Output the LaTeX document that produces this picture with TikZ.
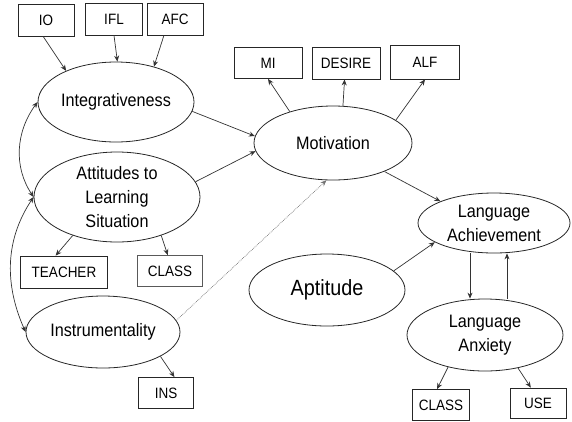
\documentclass[tikz,border=0pt]{standalone}
\usepackage{fontspec}
\setmainfont[FakeStretch=0.9]{Liberation Sans}
\usepackage{xcolor}
\usepackage{tikz}
\usetikzlibrary{arrows.meta, shapes.geometric}
\tikzset{
  latent_node/.style={ellipse, draw=black!85, line width=0.8pt, inner sep=0pt, align=center, font=\fontsize{18}{24}\selectfont},
  indicator_box/.style={rectangle, draw=black!85, line width=0.8pt, inner sep=0pt, minimum height=32pt, font=\fontsize{15}{16}\selectfont},
  edge_path/.style={line width=0.7pt, color=black!80, -{Stealth[length=6pt, width=5pt]}},
  edge_cov/.style={line width=0.7pt, color=black!80, {Stealth[length=6pt, width=5pt]}-{Stealth[length=6pt, width=5pt]}},
  edge_weak/.style={line width=0.7pt, color=black!55, densely dotted, -{Stealth[length=6pt, width=5pt]}}
}
\begin{document}
\begin{tikzpicture}[x=1pt, y=-1pt]
\useasboundingbox (0, 0) rectangle (572, 421);
% latent variables
\node[latent_node, minimum width=156pt, minimum height=80pt] (latent_integ) at (116, 102) {Integrativeness};
\node[latent_node, minimum width=166pt, minimum height=90pt] (latent_att) at (117, 197) {Attitudes to\\Learning\\Situation};
\node[latent_node, minimum width=154pt, minimum height=72pt] (latent_instr) at (103, 332) {Instrumentality};
\node[latent_node, minimum width=158pt, minimum height=74pt] (latent_motiv) at (333, 143) {Motivation};
\node[latent_node, minimum width=152pt, minimum height=60pt] (latent_ach) at (494, 223) {Language\\Achievement};
\node[latent_node, minimum width=156pt, minimum height=72pt, font=\fontsize{22}{24}\selectfont] (latent_apt) at (327, 290) {Aptitude};
\node[latent_node, minimum width=156pt, minimum height=72pt] (latent_anx) at (485, 335) {Language\\Anxiety};
% indicators
\node[indicator_box, minimum width=56pt] (box_io) at (46, 20) {IO};
\node[indicator_box, minimum width=57pt] (box_ifl) at (114, 19) {IFL};
\node[indicator_box, minimum width=56pt] (box_afc) at (175, 19) {AFC};
\node[indicator_box, minimum width=68pt, minimum height=31pt] (box_mi) at (268, 63) {MI};
\node[indicator_box, minimum width=68pt] (box_desire) at (346, 63) {DESIRE};
\node[indicator_box, minimum width=69pt, minimum height=34pt] (box_alf) at (425, 62) {ALF};
\node[indicator_box, minimum width=87pt] (box_teacher) at (64, 272) {TEACHER};
\node[indicator_box, minimum width=65pt, minimum height=31pt, draw=black!65] (box_class_att) at (170, 271) {CLASS};
\node[indicator_box, minimum width=55pt, minimum height=31pt] (box_ins) at (166, 393) {INS};
\node[indicator_box, minimum width=57pt, minimum height=31pt] (box_class_anx) at (441, 405) {CLASS};
\node[indicator_box, minimum width=56pt, minimum height=30pt] (box_use) at (538, 403) {USE};
% paths
\draw[edge_path] (box_io.-100) -- (latent_integ.148);
\draw[edge_path] (box_ifl.south) -- (latent_integ.88);
\draw[edge_path] (box_afc.236) -- (latent_integ.43);
\draw[edge_path] (latent_integ.-7) -- (latent_motiv.175);
\draw[edge_path] (latent_att.11) -- (latent_motiv.186);
\draw[edge_weak] (latent_instr.9) -- (latent_motiv.260);
\draw[edge_path] (latent_motiv.144) -- (box_mi.south);
\draw[edge_path] (latent_motiv.75) -- (box_desire.-95);
\draw[edge_path] (latent_motiv.20) -- (box_alf.south);
\draw[edge_path] (latent_motiv.-29) -- (latent_ach.158);
\draw[edge_path] (latent_att.221) -- (box_teacher.117);
\draw[edge_path] (latent_att.-41) -- (box_class_att.98);
\draw[edge_path] (latent_instr.-23) -- (box_ins.62);
\draw[edge_path] (latent_apt.16) -- (latent_ach.198);
\draw[edge_path] ([xshift=-24pt]latent_ach.south) -- ([xshift=-15pt]latent_anx.north);
\draw[edge_path] ([xshift=22pt]latent_anx.north) -- ([xshift=13pt]latent_ach.south);
\draw[edge_path] (latent_anx.221) -- (box_class_anx.104);
\draw[edge_path] (latent_anx.-45) -- (box_use.115);
% correlations
\draw[edge_cov] (latent_integ.west) .. controls +(-22, 30) and +(-20, -30) .. (latent_att.west);
\draw[edge_cov] (latent_att.west) .. controls +(-30, 45) and +(-20, -45) .. (latent_instr.west);
\end{tikzpicture}
\end{document}
